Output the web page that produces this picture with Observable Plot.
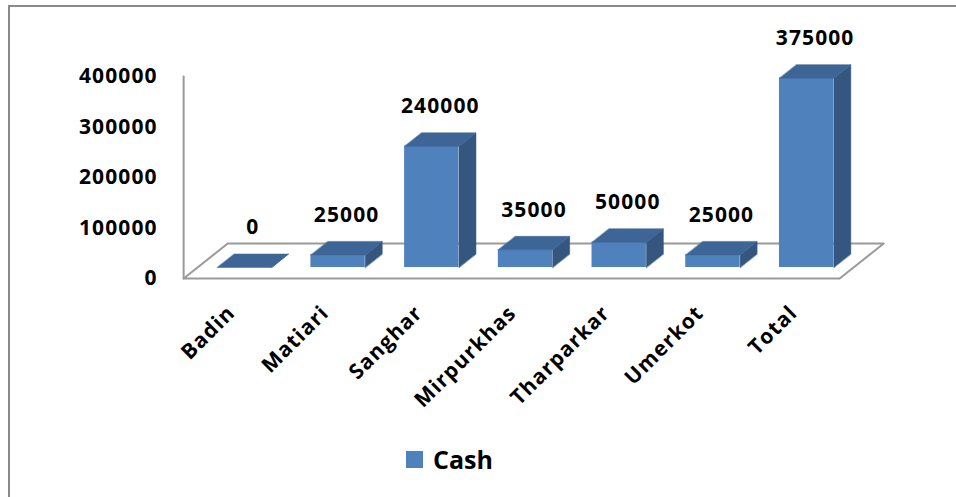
<!DOCTYPE html>
<html>
<head>
<meta charset="utf-8">
<script src="https://cdn.jsdelivr.net/npm/d3@7"></script>
<script src="https://cdn.jsdelivr.net/npm/@observablehq/plot@0.6"></script>
<style>
  html, body { margin: 0; padding: 0; background: #ffffff; }
  #wrap { position: relative; width: 956px; height: 497px; overflow: hidden; font-family: "Open Sans", sans-serif; }
  #frame { position: absolute; left: 8px; top: 5px; right: -4px; bottom: -4px; border-left: 2px solid #8a8a8a; border-top: 2px solid #8a8a8a; }
  #chart { position: absolute; left: 0; top: 0; }
  #legend { position: absolute; left: 406px; top: 442px; display: flex; align-items: center; font-weight: 700; font-size: 25px; color: #000; }
  #legend .sw { width: 17px; height: 17px; background: #4F81BD; margin-right: 10px; }
</style>
</head>
<body>
<div id="wrap">
  <div id="frame"></div>
  <div id="chart"></div>
  <div id="legend"><span class="sw"></span><span id="legend-label"></span></div>
</div>
<script>
// ---- data ----
const categories = ["Badin", "Matiari", "Sanghar", "Mirpurkhas", "Tharparkar", "Umerkot", "Total"];
const cashValues = [0, 25000, 240000, 35000, 50000, 25000, 375000];
const yTickValues = [0, 100000, 200000, 300000, 400000];
const seriesName = "Cash";

// ---- scale geometry ----
const X_DOMAIN = [-0.5, categories.length - 0.5];
const X_RANGE = [197, 853];
const Y_DOMAIN = [0, 400000];
const Y_RANGE = [267, 65];
const kx = (X_RANGE[1] - X_RANGE[0]) / (X_DOMAIN[1] - X_DOMAIN[0]); // px per category
const ky = (Y_RANGE[0] - Y_RANGE[1]) / (Y_DOMAIN[1] - Y_DOMAIN[0]); // px per value unit

// 3D oblique projection: d = pixels "back" (upwards), shifted right by SLANT per px
const SLANT = 1.26;
const P = (x, y, d) => ({ x: x + d * SLANT / kx, y: y + d / ky });
const HW = 0.29;          // half bar width, in category units
const BAR_DEPTH = 13.5;
const FLOOR_FRONT = -11;
const FLOOR_BACK = 24;

const bars = categories.map((c, i) => ({ c, i, v: cashValues[i] }));
const tops = bars.flatMap(b =>
  [P(b.i - HW, b.v, 0), P(b.i + HW, b.v, 0), P(b.i + HW, b.v, BAR_DEPTH), P(b.i - HW, b.v, BAR_DEPTH)]
    .map(p => ({ ...p, id: b.c })));
const sides = bars.flatMap(b =>
  [P(b.i + HW, 0, 0), P(b.i + HW, b.v, 0), P(b.i + HW, b.v, BAR_DEPTH), P(b.i + HW, 0, BAR_DEPTH)]
    .map(p => ({ ...p, id: b.c })));
const floor = [
  P(X_DOMAIN[0], 0, FLOOR_FRONT), P(X_DOMAIN[1], 0, FLOOR_FRONT),
  P(X_DOMAIN[1], 0, FLOOR_BACK), P(X_DOMAIN[0], 0, FLOOR_BACK),
  P(X_DOMAIN[0], 0, FLOOR_FRONT)
];
const axisLine = [P(X_DOMAIN[0], 0, FLOOR_FRONT), P(X_DOMAIN[0], d3.max(yTickValues), FLOOR_FRONT)];

const FONT = "'Open Sans', sans-serif";
const FRONT = "#4F81BD", TOP = "#3D6595", SIDE = "#34567F", GRID = "#9a9a9a";

const plot = Plot.plot({
  width: 956,
  height: 430,
  marginLeft: 0, marginRight: 0, marginTop: 0, marginBottom: 0,
  x: { type: "linear", domain: X_DOMAIN, range: X_RANGE, axis: null },
  y: { type: "linear", domain: Y_DOMAIN, range: Y_RANGE, axis: null },
  style: { fontFamily: FONT, background: "transparent", overflow: "visible" },
  marks: [
    Plot.line(floor, { x: "x", y: "y", fill: "white", stroke: GRID, strokeWidth: 2, curve: "linear-closed" }),
    Plot.line(axisLine, { x: "x", y: "y", stroke: GRID, strokeWidth: 2 }),
    Plot.line(sides, { x: "x", y: "y", z: "id", fill: SIDE, stroke: SIDE, strokeWidth: 0.5, curve: "linear-closed" }),
    Plot.rect(bars, { x1: d => d.i - HW, x2: d => d.i + HW, y1: 0, y2: "v", fill: FRONT }),
    Plot.line(tops, { x: "x", y: "y", z: "id", fill: TOP, stroke: TOP, strokeWidth: 0.5, curve: "linear-closed" }),
    // data labels
    Plot.text(bars, {
      x: d => P(d.i, d.v, BAR_DEPTH / 2).x, y: "v", dy: -40,
      text: d => String(d.v), fontSize: 21, fontWeight: 700, fill: "black"
    }),
    // y tick labels (front plane)
    Plot.text(yTickValues, {
      x: () => P(X_DOMAIN[0], 0, FLOOR_FRONT).x, y: d => P(X_DOMAIN[0], d, FLOOR_FRONT).y,
      dx: -26, textAnchor: "end", text: d => String(d), fontSize: 21, fontWeight: 700, fill: "black"
    }),
    // category labels
    Plot.text(bars, {
      x: d => P(d.i, 0, FLOOR_FRONT).x, y: () => P(0, 0, FLOOR_FRONT).y,
      dx: 1, dy: 31, rotate: -45, textAnchor: "end",
      text: "c", fontSize: 21, fontWeight: 700, fill: "black"
    })
  ]
});
d3.select(plot).selectAll("text").style("letter-spacing", "1.1px");
document.getElementById("chart").appendChild(plot);
document.getElementById("legend-label").textContent = seriesName;
</script>
</body>
</html>
